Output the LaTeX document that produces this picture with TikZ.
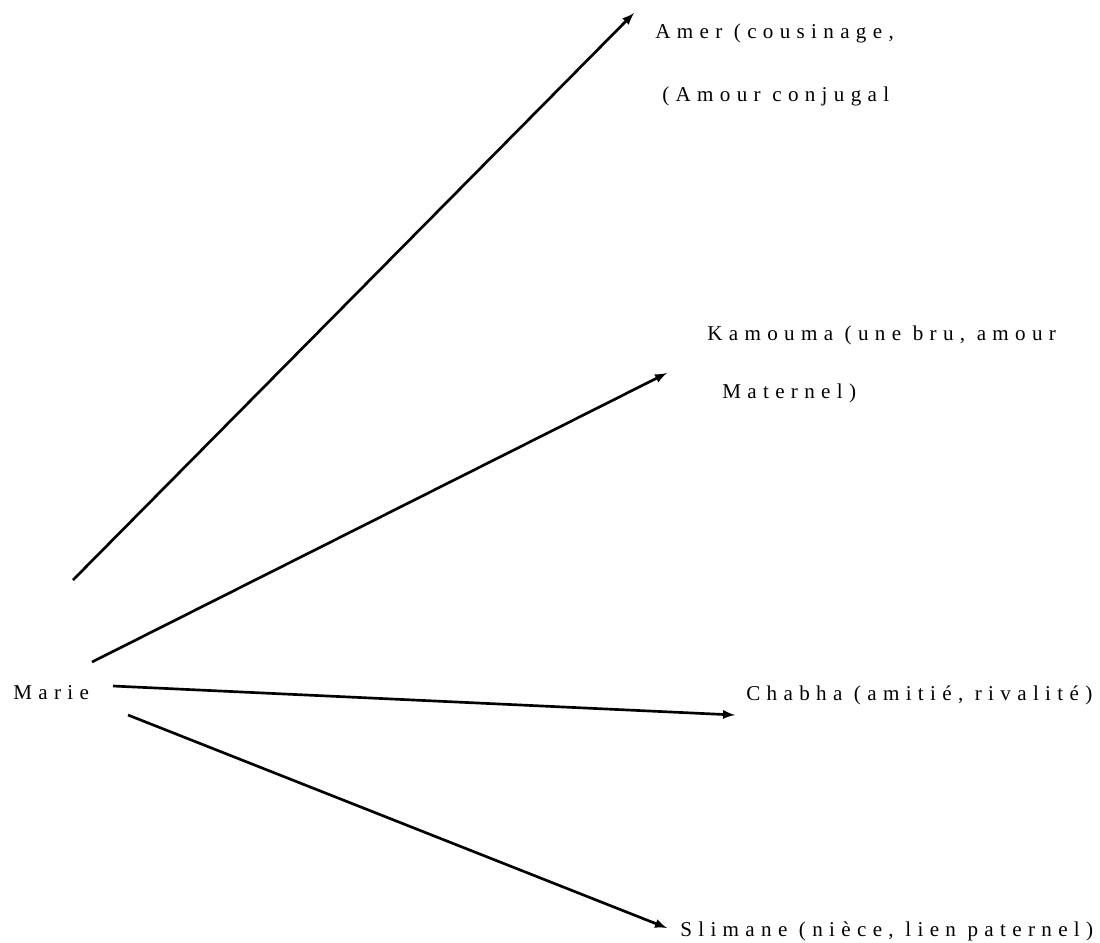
\documentclass[tikz,border=0pt]{standalone}
\usepackage{fontspec}
\setmainfont{Liberation Serif}
\newfontfamily\spaced[LetterSpace=30]{Liberation Serif}
\usepackage{tikz}
\usetikzlibrary{calc,arrows}

\tikzset{
  lbl/.style={anchor=base west,inner sep=0pt,font=\spaced\fontsize{15}{18}\selectfont},
  rel/.style={-latex,line width=1.9pt}
}

\begin{document}
\begin{tikzpicture}[x=0.025cm,y=-0.025cm]
\useasboundingbox (0,0) rectangle (1100,942);
\node (marie) at (13,699) [lbl]{Marie};
\node (amer) at (655,38) [lbl]{Amer (cousinage,};
\node (amer2) at (662,101) [lbl]{(Amour conjugal};
\node (kamouma) at (707,340) [lbl]{Kamouma (une bru, amour};
\node (kamouma2) at (722,398) [lbl]{Maternel)};
\node (chabha) at (746,700) [lbl]{Chabha (amitié, rivalité)};
\node (slimane) at (680,936) [lbl]{Slimane (nièce, lien paternel)};
\coordinate (from-amer) at (73,580);
\coordinate (from-kamouma) at (92,662);
\coordinate (from-chabha) at (113,686);
\coordinate (from-slimane) at (128,715);
\coordinate (to-amer) at (634,13);
\coordinate (to-kamouma) at (667,373);
\coordinate (to-chabha) at (735,715);
\coordinate (to-slimane) at (667,928);
\draw[rel] (from-amer) -- (to-amer);
\draw[rel] (from-kamouma) -- (to-kamouma);
\draw[rel] (from-chabha) -- (to-chabha);
\draw[rel] (from-slimane) -- (to-slimane);
\end{tikzpicture}
\end{document}
